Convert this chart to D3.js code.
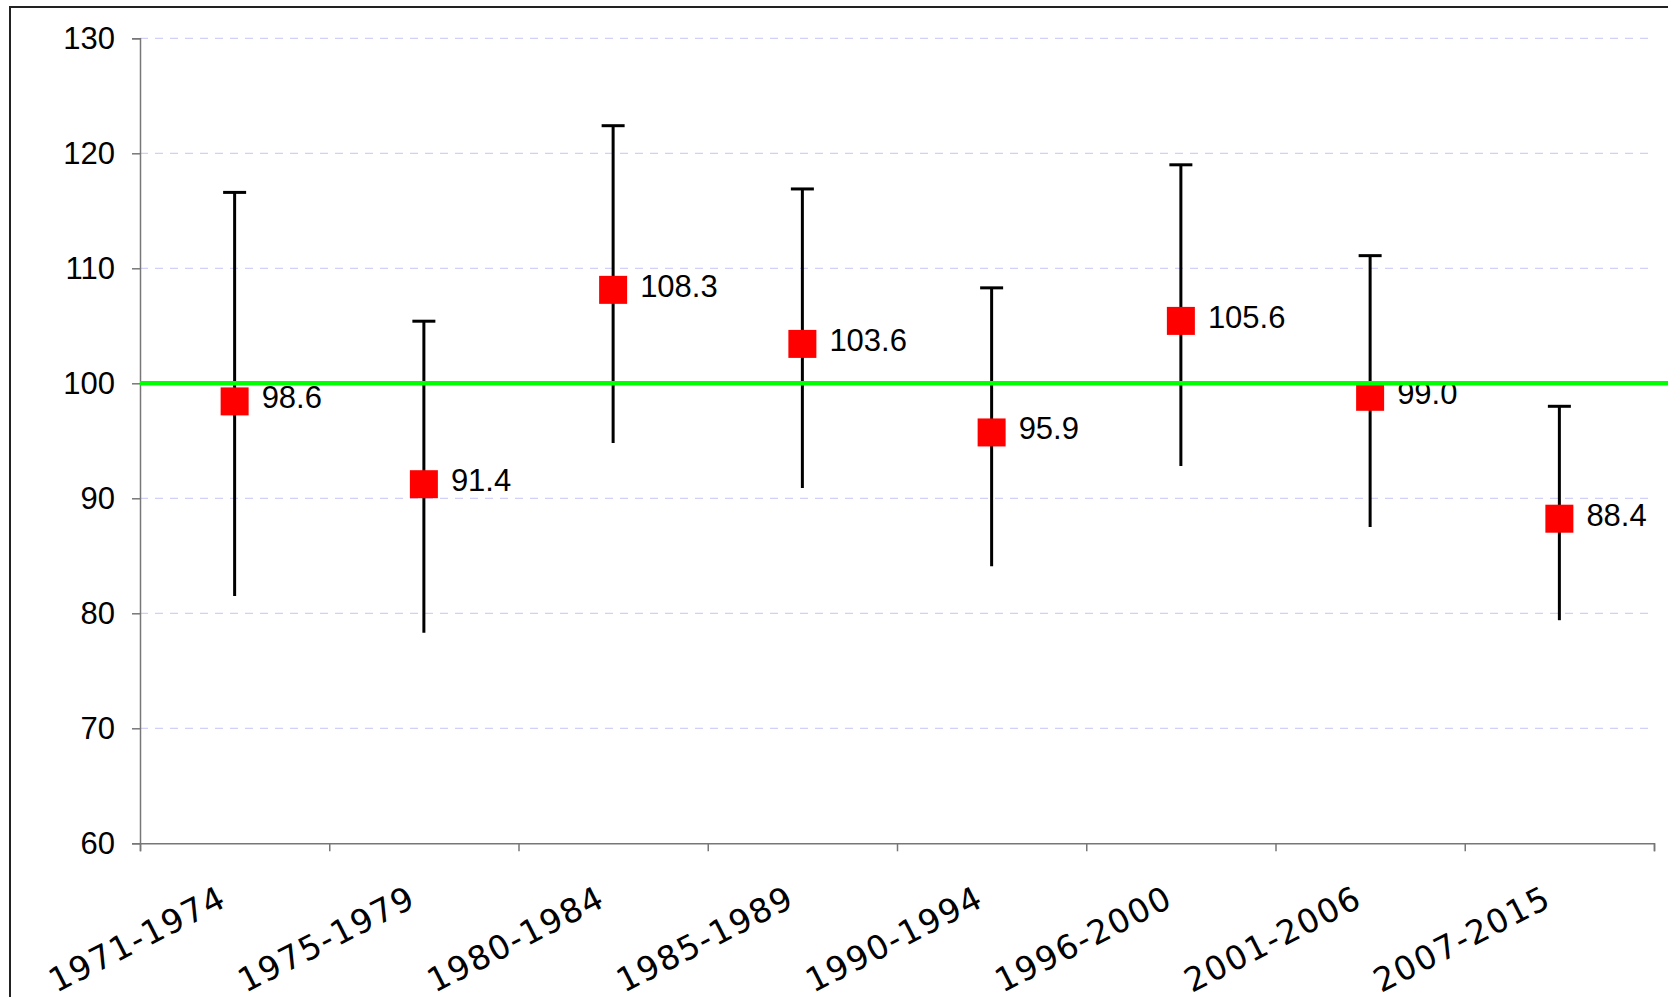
<!DOCTYPE html>
<html>
<head>
<meta charset="utf-8">
<script src="https://cdn.jsdelivr.net/npm/d3@7"></script>
<style>
  html, body { margin: 0; padding: 0; background: #fff; }
  svg { display: block; }
</style>
</head>
<body>
<svg id="chart" width="1668" height="997"></svg>
<script>
// ---- data ----
const categories = ["1971-1974", "1975-1979", "1980-1984", "1985-1989", "1990-1994", "1996-2000", "2001-2006", "2007-2015"];
const values = [98.6, 91.4, 108.3, 103.6, 95.9, 105.6, 99.0, 88.4];
const upperBounds = [116.6, 105.4, 122.4, 116.9, 108.3, 119.0, 111.1, 98.0];
const lowerBounds = [81.5, 78.3, 94.8, 90.9, 84.1, 92.8, 87.5, 79.4];
const yTickValues = [60, 70, 80, 90, 100, 110, 120, 130];
const gridValues = [70, 80, 90, 100, 110, 120, 130];
const referenceValue = 100;
const valueLabels = ["98.6", "91.4", "108.3", "103.6", "95.9", "105.6", "99.0", "88.4"];

// ---- layout ----
const svg = d3.select("#chart");
const plotLeft = 140, plotRight = 1654, plotTop = 38.3, plotBottom = 843.3;

const y = d3.scaleLinear().domain([60, 130]).range([plotBottom, plotTop]);
const xBand = d3.scaleBand().domain(categories).range([plotLeft, plotRight]).padding(0);
const xEdge = d3.scaleLinear().domain([0, categories.length]).range([plotLeft, plotRight]);

// outer frame
svg.append("rect")
  .attr("x", 10).attr("y", 7).attr("width", 1700).attr("height", 1100)
  .attr("fill", "none").attr("stroke", "#222").attr("stroke-width", 2);

// gridlines
svg.append("g").selectAll("line").data(gridValues).join("line")
  .attr("x1", plotLeft).attr("x2", plotRight)
  .attr("y1", d => y(d)).attr("y2", d => y(d))
  .attr("stroke", "#d0d0f8").attr("stroke-width", 1.3)
  .attr("stroke-dasharray", "8,7");

// y axis
const yAxis = svg.append("g")
  .attr("transform", `translate(${plotLeft},0)`)
  .call(d3.axisLeft(y).tickValues(yTickValues).tickSize(8).tickPadding(17).tickFormat(d3.format("d")));
yAxis.select(".domain").attr("stroke", "#777").attr("stroke-width", 1.5);
yAxis.selectAll(".tick line").attr("stroke", "#777").attr("stroke-width", 1.5);
yAxis.selectAll(".tick text")
  .attr("font-family", "'Liberation Sans', Arial, sans-serif")
  .attr("font-size", 31).attr("fill", "#000");

// x axis
const xAxis = svg.append("g")
  .attr("transform", `translate(0,${plotBottom})`)
  .call(d3.axisBottom(xEdge).tickValues(d3.range(categories.length + 1)).tickSize(8).tickFormat(""));
xAxis.select(".domain").attr("stroke", "#777").attr("stroke-width", 1.5);
xAxis.selectAll(".tick line").attr("stroke", "#777").attr("stroke-width", 1.5);

// x labels
svg.append("g").selectAll("text").data(categories).join("text")
  .attr("transform", d => `translate(${xBand(d) + xBand.bandwidth() / 2 - 6},${plotBottom + 62}) rotate(-27)`)
  .attr("text-anchor", "end")
  .attr("font-family", "'DejaVu Sans', Verdana, sans-serif")
  .attr("font-size", 33)
  .attr("letter-spacing", 1.5)
  .attr("fill", "#000")
  .text(d => d);

const cx = d => xBand(d) + xBand.bandwidth() / 2;

// error bars
const eb = svg.append("g");
eb.selectAll("line.v").data(categories).join("line")
  .attr("class", "v")
  .attr("x1", cx).attr("x2", cx)
  .attr("y1", (d, i) => y(upperBounds[i])).attr("y2", (d, i) => y(lowerBounds[i]))
  .attr("stroke", "#000").attr("stroke-width", 3);
eb.selectAll("line.cap").data(categories).join("line")
  .attr("class", "cap")
  .attr("x1", d => cx(d) - 11.5).attr("x2", d => cx(d) + 11.5)
  .attr("y1", (d, i) => y(upperBounds[i])).attr("y2", (d, i) => y(upperBounds[i]))
  .attr("stroke", "#000").attr("stroke-width", 3);

// markers
svg.append("g").selectAll("rect").data(categories).join("rect")
  .attr("x", d => cx(d) - 14)
  .attr("y", (d, i) => y(values[i]) - 14 + 2)
  .attr("width", 28).attr("height", 28)
  .attr("fill", "#ff0000");

// value labels
svg.append("g").selectAll("text").data(categories).join("text")
  .attr("x", d => cx(d) + 27)
  .attr("y", (d, i) => y(values[i]) + 9)
  .attr("font-family", "'Liberation Sans', Arial, sans-serif")
  .attr("font-size", 31)
  .attr("fill", "#000")
  .text((d, i) => valueLabels[i]);

// reference line (on top)
svg.append("line")
  .attr("x1", plotLeft).attr("x2", 1668)
  .attr("y1", y(referenceValue)).attr("y2", y(referenceValue))
  .attr("stroke", "#00ff00").attr("stroke-width", 4.5);
</script>
</body>
</html>
